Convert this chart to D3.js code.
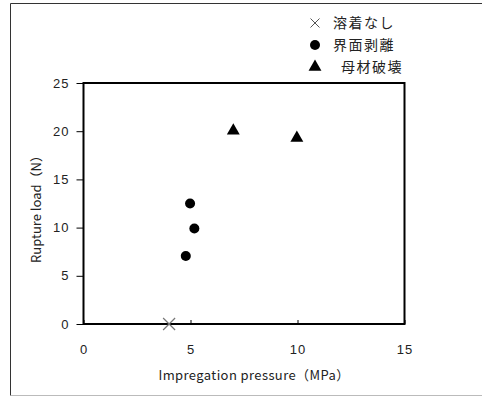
<!DOCTYPE html>
<html>
<head>
<meta charset="utf-8">
<script src="https://cdn.jsdelivr.net/npm/d3@7"></script>
<style>
  html, body { margin: 0; padding: 0; background: #fff; }
  svg { display: block; font-family: "Noto Sans CJK JP", "Noto Sans", sans-serif; }
</style>
</head>
<body>
<script>
// categories (failure modes) and their points
const categories = ['溶着なし', '界面剥離', '母材破壊'];
const noFusionX = [4.0];
const noFusionY = [0];
const peelX = [4.98, 5.18, 4.78];
const peelY = [12.5, 9.9, 7.05];
const baseX = [7.0, 9.97];
const baseY = [20.05, 19.3];
const xTicks = [0, 5, 10, 15];
const yTicks = [0, 5, 10, 15, 20, 25];

const width = 482;
const height = 396;
const marginLeft = 83.5;
const marginRight = 77.5;
const marginTop = 83;
const marginBottom = 72;

const x = d3.scaleLinear()
  .domain([0, 15])
  .range([marginLeft, width - marginRight]);

const y = d3.scaleLinear()
  .domain([0, 25])
  .range([height - marginBottom, marginTop]);

const svg = d3.select('body').append('svg')
  .attr('width', width)
  .attr('height', height)
  .attr('viewBox', [0, 0, width, height]);

// outer chart frame (right side runs off the picture)
svg.append('path')
  .attr('d', `M ${width + 2} 3.5 H 10.5 V 395.5`)
  .attr('fill', 'none')
  .attr('stroke', '#333')
  .attr('stroke-width', 1);
svg.append('line')
  .attr('x1', 11).attr('x2', width)
  .attr('y1', 395.5).attr('y2', 395.5)
  .attr('stroke', '#bbb');

// x axis: ticks pointing into the plot
const gx = svg.append('g')
  .attr('transform', `translate(0,${y(0)})`)
  .call(d3.axisBottom(x).tickValues(xTicks).tickSize(-4).tickPadding(21).tickFormat(d3.format('d')))
  .call((g) => g.select('.domain').remove());
gx.selectAll('.tick line').attr('stroke', '#000');
gx.selectAll('.tick text').attr('fill', '#222').attr('font-size', 13).attr('letter-spacing', 1);

// y axis: ticks pointing outward
const gy = svg.append('g')
  .attr('transform', `translate(${x(0)},0)`)
  .call(d3.axisLeft(y).tickValues(yTicks).tickSize(7).tickPadding(7).tickFormat(d3.format('d')))
  .call((g) => g.select('.domain').remove());
gy.selectAll('.tick line').attr('stroke', '#000');
gy.selectAll('.tick text').attr('fill', '#222').attr('font-size', 13).attr('letter-spacing', 1);

// plot area border
svg.append('rect')
  .attr('x', x(0))
  .attr('y', y(25))
  .attr('width', x(15) - x(0))
  .attr('height', y(0) - y(25))
  .attr('fill', 'none')
  .attr('stroke', '#000')
  .attr('stroke-width', 2);

// axis titles
svg.append('text')
  .attr('x', 254)
  .attr('y', 380)
  .attr('text-anchor', 'middle')
  .attr('font-size', 13)
  .attr('letter-spacing', 0.4)
  .attr('fill', '#222')
  .text('Impregation pressure（MPa）');

svg.append('text')
  .attr('transform', `translate(41,206) rotate(-90)`)
  .attr('text-anchor', 'middle')
  .attr('font-size', 13)
  .attr('fill', '#222')
  .text('Rupture load（N）');

// markers
const crossPath = (s) => `M ${-s} ${-s} L ${s} ${s} M ${-s} ${s} L ${s} ${-s}`;
const tri = d3.symbol().type(d3.symbolTriangle).size(72);

svg.append('g').selectAll('path')
  .data(d3.zip(noFusionX, noFusionY))
  .join('path')
  .attr('transform', (d) => `translate(${x(d[0])},${y(d[1])})`)
  .attr('d', crossPath(6))
  .attr('fill', 'none')
  .attr('stroke', '#777')
  .attr('stroke-width', 1.2);

svg.append('g').selectAll('circle')
  .data(d3.zip(peelX, peelY))
  .join('circle')
  .attr('cx', (d) => x(d[0]))
  .attr('cy', (d) => y(d[1]))
  .attr('r', 5)
  .attr('fill', '#000');

svg.append('g').selectAll('path')
  .data(d3.zip(baseX, baseY))
  .join('path')
  .attr('transform', (d) => `translate(${x(d[0])},${y(d[1])})`)
  .attr('d', tri)
  .attr('fill', '#000');

// legend
const legendX = 315;
const legendY = [23, 45, 67];
const legendTextX = [333, 333, 341];
const legend = svg.append('g');

legend.append('path')
  .attr('transform', `translate(${legendX},${legendY[0]})`)
  .attr('d', crossPath(4.5))
  .attr('fill', 'none')
  .attr('stroke', '#555')
  .attr('stroke-width', 1);
legend.append('circle')
  .attr('cx', legendX)
  .attr('cy', legendY[1])
  .attr('r', 5)
  .attr('fill', '#000');
legend.append('path')
  .attr('transform', `translate(${legendX},${legendY[2]})`)
  .attr('d', tri)
  .attr('fill', '#000');

legend.selectAll('text')
  .data(categories)
  .join('text')
  .attr('x', (d, i) => legendTextX[i])
  .attr('y', (d, i) => legendY[i])
  .attr('dy', '0.36em')
  .attr('font-size', 14)
  .attr('letter-spacing', 1.5)
  .attr('fill', '#222')
  .text((d) => d);
</script>
</body>
</html>
